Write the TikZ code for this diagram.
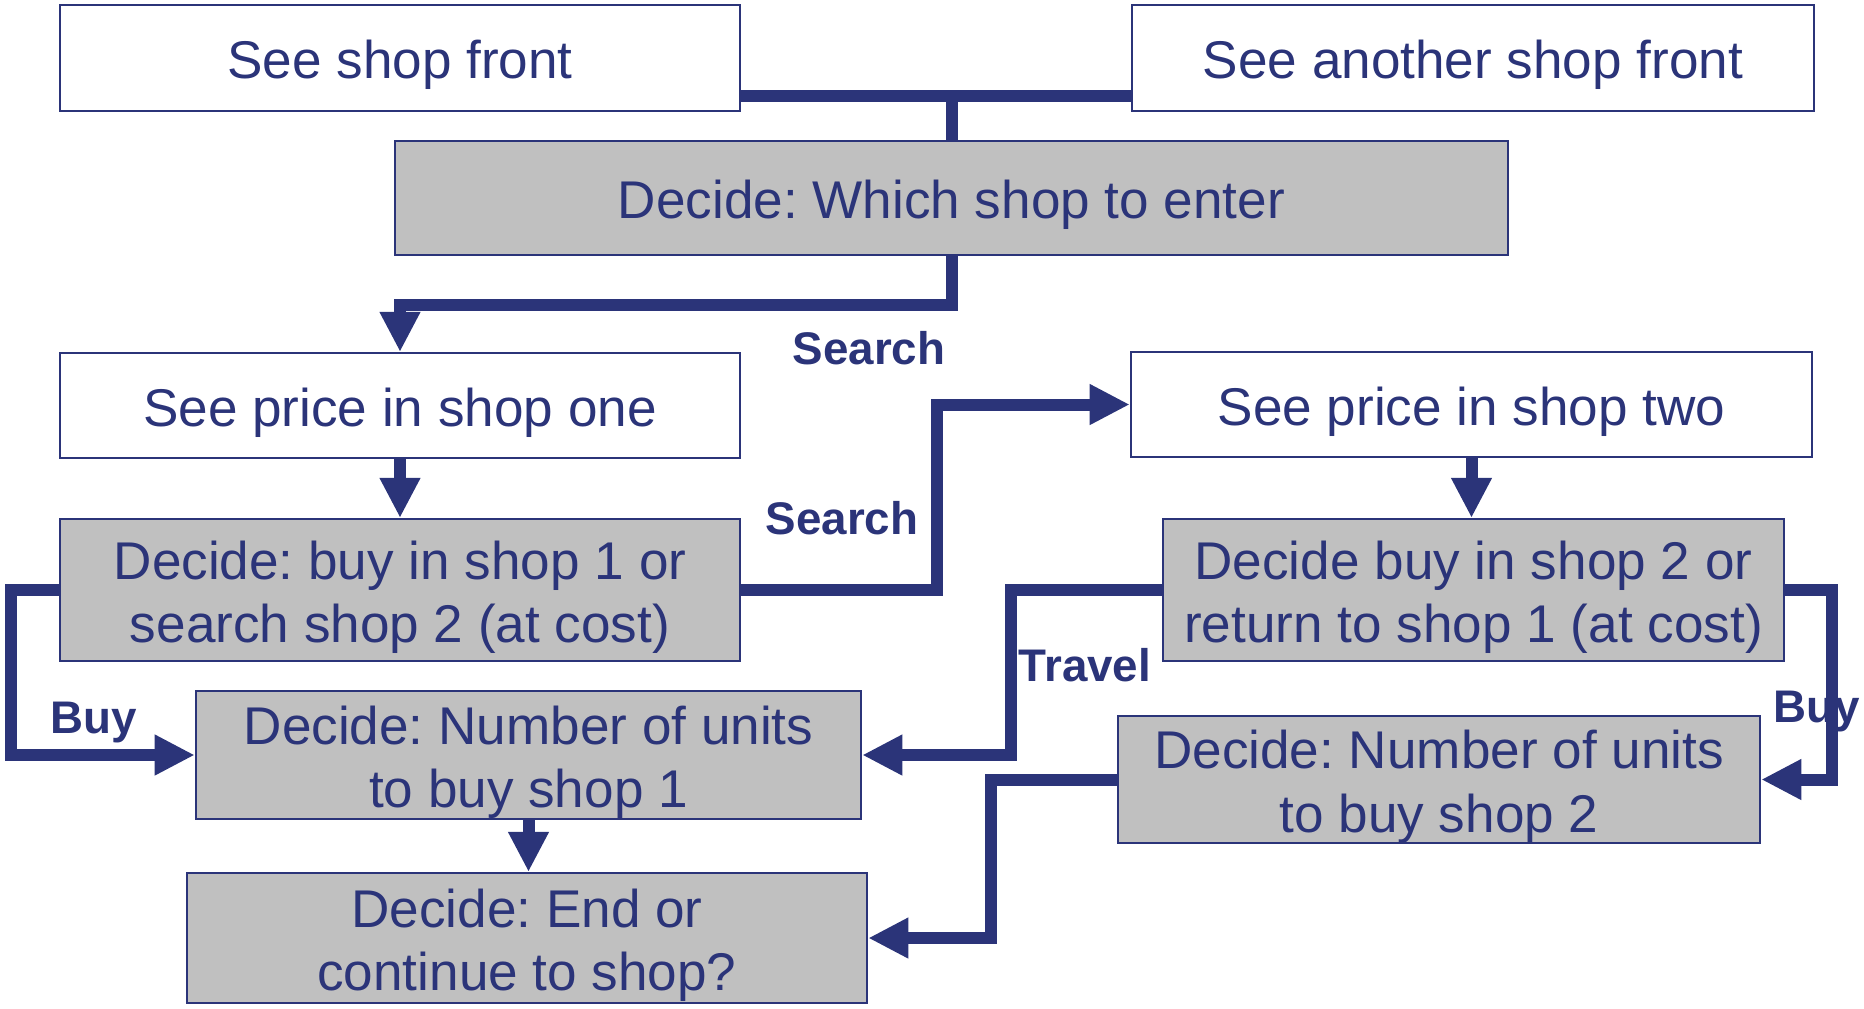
\documentclass[tikz,border=0pt]{standalone}
\usepackage{fontspec}
\setmainfont{Liberation Sans}
\usetikzlibrary{arrows.meta,calc}
\definecolor{navy}{RGB}{43,52,121}
\definecolor{boxgray}{RGB}{192,192,192}
\newcommand\boxstrut{\rule{0pt}{15pt}}
\frenchspacing
\begin{document}
\frenchspacing
\begin{tikzpicture}[x=0.01cm,y=-0.01cm,
  box/.style={draw=navy, line width=0.6pt, text=navy, inner sep=0pt,
    font=\fontsize{15.1}{18}\selectfont\frenchspacing, align=center,
    execute at begin node=\boxstrut},
  wbox/.style={box, fill=white},
  gbox/.style={box, fill=boxgray},
  conn/.style={draw=navy, line width=0.12cm},
  arr/.style={conn, -{Triangle[length=0.4cm,width=0.38cm]}},
  lbl/.style={text=navy, font=\fontsize{13}{15}\selectfont\bfseries, inner sep=0pt}]
\useasboundingbox (0,0) rectangle (1864,1008);

\node[wbox, minimum width=6.80cm, minimum height=1.06cm] (A) at (400,58) {See shop front};
\node[wbox, minimum width=6.82cm, minimum height=1.06cm] (B) at (1473,58) {See another shop front};
\node[gbox, minimum width=11.13cm, minimum height=1.14cm] (C) at (951.5,198) {Decide: Which shop to enter};
\node[wbox, minimum width=6.80cm, minimum height=1.05cm] (D) at (400,405.5) {See price in shop one};
\node[wbox, minimum width=6.81cm, minimum height=1.05cm] (E) at (1471.5,404.5) {See price in shop two};
\node[gbox, minimum width=6.80cm, minimum height=1.42cm] (F) at (400,590) {\boxstrut Decide: buy in shop 1 or\\search shop 2 (at cost)};
\node[gbox, minimum width=6.21cm, minimum height=1.42cm] (G) at (1473.5,590) {\boxstrut Decide buy in shop 2 or\\return to shop 1 (at cost)};
\node[gbox, minimum width=6.65cm, minimum height=1.28cm] (H) at (528.5,755) {\boxstrut Decide: Number of units\\to buy shop 1};
\node[gbox, minimum width=6.42cm, minimum height=1.27cm] (I) at (1439,779.5) {\boxstrut Decide: Number of units\\to buy shop 2};
\node[gbox, minimum width=6.80cm, minimum height=1.30cm] (J) at (527,938) {\boxstrut Decide: End or\\continue to shop?};

\coordinate (j) at (951.5,96);
\draw[conn] (A.east |- j) -- (B.west |- j);
\draw[conn] (j) -- (C.north);
\draw[arr] (C.south) -- ++(0,49) -| (D.north);
\draw[arr] (D.south) -- (F.north);
\draw[arr] (F.east) -- ++(196,0) |- (E.west);
\draw[arr] (F.west) -- ++(-48,0) |- (H.west);
\draw[arr] (E.south) -- (E.south |- G.north);
\draw[arr] (G.west) -- ++(-151,0) |- (H.east);
\draw[arr] (G.east) -- ++(47,0) |- (I.east);
\draw[arr] (I.west) -- ++(-126,0) |- (J.east);
\draw[arr] (H.south) -- (H.south |- J.north);

\node[lbl] (s1) at (869,348) {Search};
\node[lbl] (s2) at (842,518) {Search};
\node[lbl] (b1) at (94,722) {Buy};
\node[lbl] (tr) at (1085,665) {Travel};
\node[lbl] (b2) at (1817,711) {Buy};
\end{tikzpicture}
\end{document}
